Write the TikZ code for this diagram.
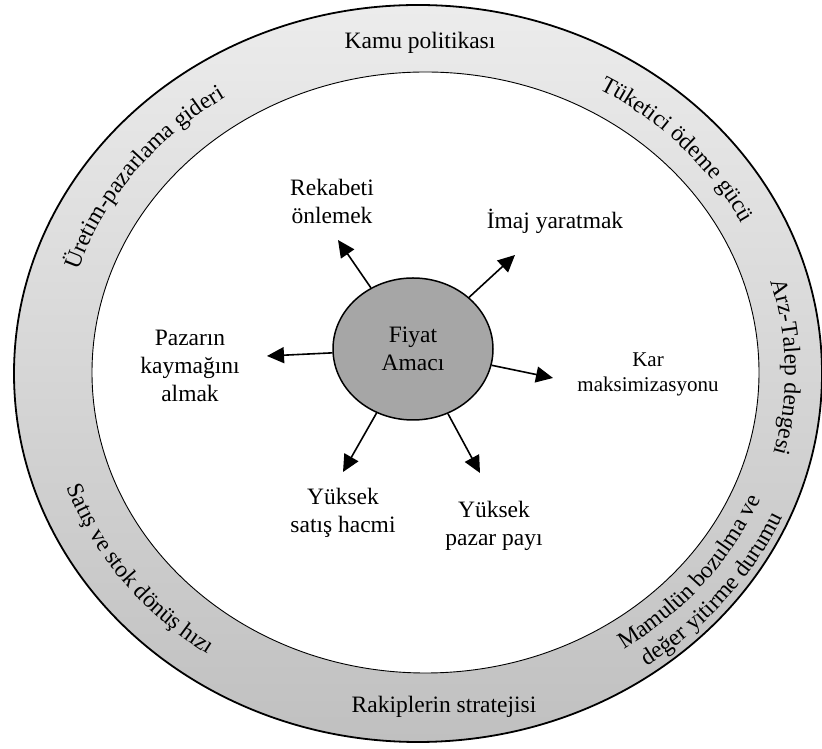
\documentclass[tikz,border=0pt]{standalone}
\usepackage{fontspec}
\setmainfont{Liberation Serif}
\usetikzlibrary{arrows.meta,shapes.geometric,decorations.text}
\definecolor{ringtop}{RGB}{236,236,236}
\definecolor{ringbot}{RGB}{192,192,192}
\definecolor{corefill}{RGB}{166,166,166}
\newcommand{\mainsize}{\fontsize{23.5}{28}\selectfont}
\newcommand{\karsize}{\fontsize{21}{25}\selectfont}
\begin{document}
\begin{tikzpicture}[x=1pt,y=1pt,
  lbl/.style={align=center,font=\mainsize,inner sep=0pt},
  arr/.style={line width=1.6pt,-{Triangle[length=17pt,width=16pt]}},
  core/.style={ellipse,draw,line width=1.5pt,fill=corefill,minimum width=160pt,minimum height=142pt,inner sep=0pt,align=center,font=\mainsize},
  ringtext/.style={decorate,decoration={text along path,text align=center,text={|\mainsize|#1}}}
]
\useasboundingbox (0,0) rectangle (822,749);
% ring
\shadedraw[top color=ringtop,bottom color=ringbot,draw=black,line width=1.8pt] (418,375.5) ellipse [x radius=404,y radius=368.5];
\filldraw[fill=white,draw=black,line width=0.9pt] (425.5,376.5) ellipse [x radius=333.5,y radius=300.5];
% ring texts
\node[lbl] (kamu) at (420,706.5) {Kamu politikası};
\node[lbl] (rak) at (444,42.5) {Rakiplerin stratejisi};
\path[ringtext={Üretim-pazarlama gideri}] (422,376) ++(179:362 and 328) arc[start angle=179,end angle=107,x radius=362,y radius=328];
\path[ringtext={Tüketici ödeme gücü}] (422,376) ++(73:360 and 326) arc[start angle=73,end angle=14,x radius=360,y radius=326];
\path[ringtext={Arz-Talep dengesi}] (422,376) ++(31:363 and 328) arc[start angle=31,end angle=-29,x radius=363,y radius=328];
\path[ringtext={Satış ve stok dönüş hızı}] (422,376) ++(186:377 and 342) arc[start angle=186,end angle=248,x radius=377,y radius=342];
\path[ringtext={Mamulün bozulma ve}] (422,376) ++(-69:366 and 331) arc[start angle=-69,end angle=-9,x radius=366,y radius=331];
\path[ringtext={değer yitirme durumu}] (422,376) ++(-69:394 and 357) arc[start angle=-69,end angle=-9,x radius=394,y radius=357];
% centre
\node[core] (core) at (413,400) {Fiyat\\Amacı};
% labels
\node[lbl] (rek) at (332,548) {Rekabeti\\önlemek};
\node[lbl] (ima) at (555,527.5) {İmaj yaratmak};
\node[lbl] (paz) at (190,383.5) {Pazarın\\kaymağını\\almak};
\node[lbl,font=\karsize] (kar) at (648,374.5) {Kar\\maksimizasyonu};
\node[lbl] (ysh) at (343,236) {Yüksek\\satış hacmi};
\node[lbl] (ypp) at (494,223.5) {Yüksek\\pazar payı};
% arrow tips
\coordinate (tRek) at (338,509);
\coordinate (tIma) at (515,494);
\coordinate (tPaz) at (267,393);
\coordinate (tKar) at (553,371);
\coordinate (tYsh) at (343,277);
\coordinate (tYpp) at (480,276);
\draw[arr] (core) -- (tRek);
\draw[arr] (core) -- (tIma);
\draw[arr] (core) -- (tPaz);
\draw[arr] (core) -- (tKar);
\draw[arr] (core) -- (tYsh);
\draw[arr] (core) -- (tYpp);
\end{tikzpicture}
\end{document}
